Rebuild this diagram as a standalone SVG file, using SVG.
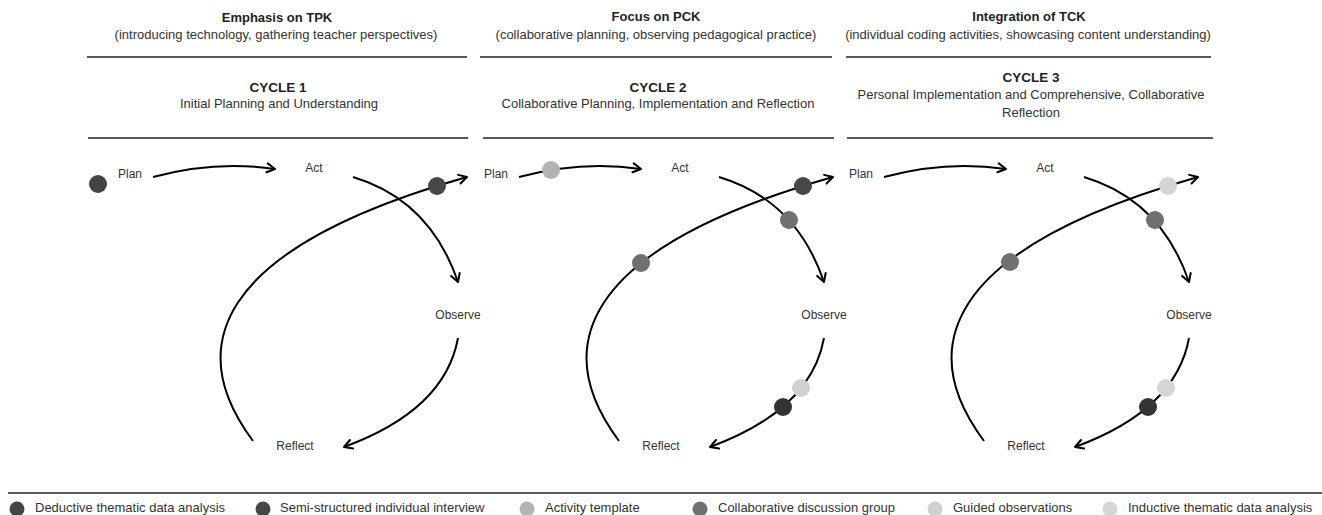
<svg xmlns="http://www.w3.org/2000/svg" width="1322" height="515" viewBox="0 0 1322 515">
<defs>
<marker id="arr" viewBox="-10 -6 12 12" refX="0" refY="0" markerWidth="12" markerHeight="12" markerUnits="userSpaceOnUse" orient="auto">
<path d="M-8,-4.5 L0,0 L-8,4.5" fill="none" stroke="#000" stroke-width="2" stroke-linecap="round" stroke-linejoin="round"/>
</marker>
<style>
text{font-family:"Liberation Sans",Arial,sans-serif;fill:#222}
.hb{font-size:13px;font-weight:bold;text-anchor:middle}
.hs{font-size:13px;text-anchor:middle;fill:#333}
.cb{font-size:13.5px;font-weight:bold;text-anchor:middle}
.nd{font-size:12px;fill:#333}
.ndm{font-size:12px;fill:#333;text-anchor:middle}
.lg{font-size:13px;fill:#333}
.rule{stroke:#222;stroke-width:1.3;fill:none}
.con{fill:none;stroke:#000;stroke-width:2;marker-end:url(#arr)}
.d1{fill:#444}
.d2{fill:#474747}
.d3{fill:#b3b3b3}
.d4{fill:#707070}
.d5{fill:#d0d0d0}
.d6{fill:#d5d5d5}
.dk{fill:#333}
</style>
</defs>
<rect width="1322" height="515" fill="#fff"/>

<g id="headers">
<text class="hb" x="277" y="22">Emphasis on TPK</text>
<text class="hs" x="276" y="39">(introducing technology, gathering teacher perspectives)</text>
<line class="rule" x1="87" y1="57" x2="467" y2="57"/>
<text class="cb" x="278" y="92">CYCLE 1</text>
<text class="hs" x="279" y="108">Initial Planning and Understanding</text>
<line class="rule" x1="88" y1="138" x2="468" y2="138"/>

<text class="hb" x="656" y="21">Focus on PCK</text>
<text class="hs" x="656" y="39">(collaborative planning, observing pedagogical practice)</text>
<line class="rule" x1="480" y1="57" x2="832" y2="57"/>
<text class="cb" x="658" y="92">CYCLE 2</text>
<text class="hs" x="658" y="108">Collaborative Planning, Implementation and Reflection</text>
<line class="rule" x1="483" y1="138" x2="834" y2="138"/>

<text class="hb" x="1029" y="21">Integration of TCK</text>
<text class="hs" x="1028" y="39">(individual coding activities, showcasing content understanding)</text>
<line class="rule" x1="846" y1="57" x2="1211" y2="57"/>
<text class="cb" x="1031" y="82">CYCLE 3</text>
<text class="hs" x="1031" y="99">Personal Implementation and Comprehensive, Collaborative</text>
<text class="hs" x="1031" y="117">Reflection</text>
<line class="rule" x1="847" y1="138" x2="1213" y2="138"/>
</g>

<g id="connectors">
<path class="con" d="M153,177 Q215,160 275,169"/>
<path class="con" d="M353,177 Q430,200 458,282"/>
<path class="con" d="M458,338 Q445,410 344,447"/>
<path class="con" d="M253,441 C185,350 210,250 467,177"/>

<path class="con" d="M519,177 Q581,160 641,169"/>
<path class="con" d="M719,177 Q796,200 824,282"/>
<path class="con" d="M824,338 Q811,410 710,447"/>
<path class="con" d="M619,441 C551,350 576,250 833,177"/>

<path class="con" d="M884,177 Q946,160 1006,169"/>
<path class="con" d="M1084,177 Q1161,200 1189,282"/>
<path class="con" d="M1189,338 Q1176,410 1075,447"/>
<path class="con" d="M984,441 C916,350 941,250 1198,177"/>
</g>

<g id="cycle1">
<g id="c1-plan"><text class="nd" x="118" y="178">Plan</text></g>
<g id="c1-act"><text class="ndm" x="314" y="172">Act</text></g>
<g id="c1-observe"><text class="ndm" x="458" y="319">Observe</text></g>
<g id="c1-reflect"><text class="ndm" x="295" y="450">Reflect</text></g>
</g>
<g id="cycle2">
<g id="c2-plan"><text class="nd" x="484" y="178">Plan</text></g>
<g id="c2-act"><text class="ndm" x="680" y="172">Act</text></g>
<g id="c2-observe"><text class="ndm" x="824" y="319">Observe</text></g>
<g id="c2-reflect"><text class="ndm" x="661" y="450">Reflect</text></g>
</g>
<g id="cycle3">
<g id="c3-plan"><text class="nd" x="849" y="178">Plan</text></g>
<g id="c3-act"><text class="ndm" x="1045" y="172">Act</text></g>
<g id="c3-observe"><text class="ndm" x="1189" y="319">Observe</text></g>
<g id="c3-reflect"><text class="ndm" x="1026" y="450">Reflect</text></g>
</g>

<g id="markers">
<circle class="d1" cx="98" cy="184" r="9"/>
<circle class="d2" cx="437" cy="186" r="9"/>

<circle class="d3" cx="551" cy="170" r="9"/>
<circle class="d4" cx="789" cy="220" r="9"/>
<circle class="d5" cx="801" cy="388" r="9"/>
<circle class="dk" cx="783" cy="407" r="9"/>
<circle class="d4" cx="641" cy="263" r="9"/>
<circle class="d2" cx="803" cy="186" r="9"/>

<circle class="d4" cx="1155" cy="220" r="9"/>
<circle class="d6" cx="1166" cy="388" r="9"/>
<circle class="dk" cx="1148" cy="407" r="9"/>
<circle class="d4" cx="1010" cy="262" r="9"/>
<circle class="d6" cx="1168" cy="186" r="9"/>
</g>

<g id="legend">
<line class="rule" x1="8" y1="493" x2="1322" y2="493"/>
<circle class="d1" cx="17" cy="509" r="7.5"/><text class="lg" x="35" y="512">Deductive thematic data analysis</text>
<circle class="d2" cx="263" cy="509" r="7.5"/><text class="lg" x="280" y="512">Semi-structured individual interview</text>
<circle class="d3" cx="527" cy="509" r="7.5"/><text class="lg" x="545" y="512">Activity template</text>
<circle class="d4" cx="700" cy="509" r="7.5"/><text class="lg" x="718" y="512">Collaborative discussion group</text>
<circle class="d5" cx="935" cy="509" r="7.5"/><text class="lg" x="953" y="512">Guided observations</text>
<circle class="d6" cx="1110" cy="509" r="7.5"/><text class="lg" x="1128" y="512">Inductive thematic data analysis</text>
</g>
</svg>
